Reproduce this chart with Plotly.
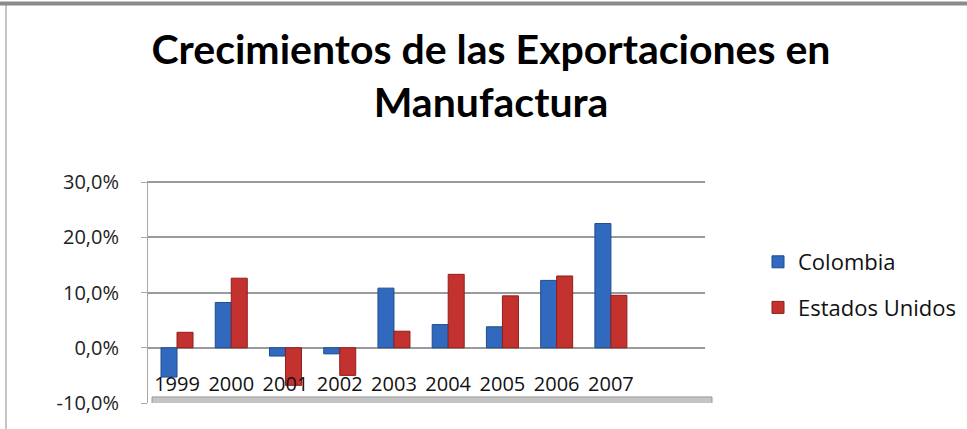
import plotly.graph_objects as go

years = ["1999", "2000", "2001", "2002", "2003", "2004", "2005", "2006", "2007"]
colombia = [-5.3, 8.2, -1.5, -1.1, 10.8, 4.2, 3.8, 12.2, 22.5]
estados_unidos = [2.8, 12.6, -6.8, -5.0, 3.0, 13.3, 9.4, 13.0, 9.5]
y_ticks = [-10, 0, 10, 20, 30]
y_tick_labels = ["-10,0%", "0,0%", "10,0%", "20,0%", "30,0%"]

W, H = 967, 429
L, R, T, B = 148, 262, 181, 26
pw, ph = W - L - R, H - T - B

fig = go.Figure()
fig.add_trace(go.Bar(x=years, y=colombia, name="Colombia", legendgroup="a",
                     marker=dict(color="#3069bd", line=dict(color="#1f4c8f", width=1))))
fig.add_trace(go.Bar(x=years, y=estados_unidos, name="Estados Unidos", legendgroup="b",
                     marker=dict(color="#c3322f", line=dict(color="#8e1f1c", width=1))))
fig.add_trace(go.Scatter(x=years, y=[-7.0] * len(years), mode="text", text=years,
                         textfont=dict(family="Open Sans", size=20, color="#111"),
                         showlegend=False, hoverinfo="skip", cliponaxis=False))

def px_x(px):
    return (px - L) / pw

def px_y(py):
    return (H - B - py) / ph

shapes = [
    # floor
    dict(type="rect", xref="paper", yref="y", x0=px_x(152), x1=px_x(712), y0=-10.3, y1=-8.9,
         fillcolor="#c4c4c4", line=dict(color="#9a9a9a", width=1), layer="below"),
    # outer frame: top and left
    dict(type="line", xref="paper", yref="paper", x0=px_x(0), x1=px_x(967), y0=px_y(3.5), y1=px_y(3.5),
         line=dict(color="#8a8a8a", width=4)),
    dict(type="line", xref="paper", yref="paper", x0=px_x(6), x1=px_x(6), y0=px_y(3), y1=px_y(429),
         line=dict(color="#8a8a8a", width=1)),
]

fig.update_layout(
    width=W, height=H,
    margin=dict(l=L, r=R, t=T, b=B, pad=0, autoexpand=False),
    paper_bgcolor="white", plot_bgcolor="white",
    barmode="group", bargap=0.41, bargroupgap=0,
    title=dict(text="Crecimientos de las Exportaciones en<br>Manufactura",
               font=dict(family="Lato", size=41, color="#000", weight="bold"),
               x=491 / W, xanchor="center", xref="container",
               y=1 - 64 / H, yanchor="middle", yref="container"),
    xaxis=dict(type="category", range=[-0.535, 9.735], showticklabels=False, showgrid=False,
               zeroline=False, showline=False, ticks=""),
    yaxis=dict(range=[-10, 30.2], tickmode="array", tickvals=y_ticks, ticktext=y_tick_labels,
               tickfont=dict(family="Open Sans", size=20, color="#222"),
               showgrid=True, gridcolor="#9a9a9a", gridwidth=2,
               zeroline=True, zerolinecolor="#9a9a9a", zerolinewidth=2,
               showline=True, linecolor="#a8a8a8", linewidth=1,
               ticks="outside", ticklen=6, tickcolor="#a8a8a8", ticklabelstandoff=18),
    legend=dict(x=758 / W, xanchor="left", xref="container",
                y=1 - 241 / H, yanchor="top", yref="container",
                font=dict(family="Open Sans", size=22, color="#111"),
                tracegroupgap=14, itemwidth=30, bgcolor="rgba(0,0,0,0)"),
    shapes=shapes,
)

fig.write_html("out.html")
